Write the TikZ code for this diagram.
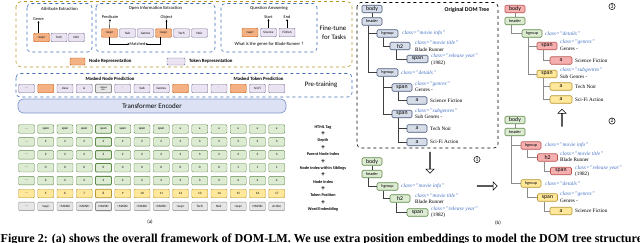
\documentclass[tikz,border=0pt]{standalone}
\usepackage{fontspec}
\setmainfont{Liberation Serif}
\setsansfont{Carlito}
\usepackage{tikz}
\usetikzlibrary{arrows.meta,shapes.arrows}

\definecolor{nodefill}{HTML}{F4B183}
\definecolor{nodeline}{HTML}{C55A11}
\definecolor{tokfill}{HTML}{EAE4F2}
\definecolor{tokline}{HTML}{7A6E96}
\definecolor{grnfill}{HTML}{DCEBD2}
\definecolor{grnline}{HTML}{5E8A4A}
\definecolor{ylwfill}{HTML}{FFE89C}
\definecolor{ylwline}{HTML}{B8962E}
\definecolor{gryfill}{HTML}{E6E6E6}
\definecolor{gryline}{HTML}{8A8A8A}
\definecolor{redfill}{HTML}{F6AFAF}
\definecolor{redline}{HTML}{B85450}
\definecolor{blufill}{HTML}{D6DCE8}
\definecolor{bluline}{HTML}{4A5A7A}
\definecolor{clsblue}{HTML}{4472C4}
\definecolor{taskline}{HTML}{3D6DB5}
\definecolor{goldline}{HTML}{B8961E}
\definecolor{encfill}{HTML}{DCE2F4}
\definecolor{encline}{HTML}{8096C8}
\newcommand{\fsz}[1]{\fontsize{#1}{#1}\selectfont}

\begin{document}
\begin{tikzpicture}[
    x=1pt,y=-1pt,
    tokbox/.style={rectangle,rounded corners=1pt,draw,line width=0.4pt,minimum width=16pt,minimum height=8.5pt,inner sep=0pt,font=\sffamily\fsz{3.3}},
    noderep/.style={tokbox,fill=nodefill,draw=nodeline},
    tokrep/.style={tokbox,fill=tokfill,draw=tokline},
    grnbox/.style={tokbox,fill=grnfill,draw=grnline},
    ylwbox/.style={tokbox,fill=ylwfill,draw=ylwline},
    grybox/.style={tokbox,fill=gryfill,draw=gryline},
    taskbox/.style={draw=taskline,dashed,line width=0.6pt,rounded corners=4pt},
    tasktitle/.style={font=\sffamily\fsz{4.6},inner sep=0pt},
    lbl/.style={font=\sffamily\fsz{4.3},inner sep=0pt},
    bigtext/.style={font=\sffamily\fsz{6.8},inner sep=0pt},
    legtext/.style={font=\sffamily\bfseries\fsz{4.8},anchor=west,inner sep=0pt},
    embtext/.style={font=\sffamily\bfseries\fsz{4.2},inner sep=0pt},
    plus/.style={font=\sffamily\bfseries\fsz{7},inner sep=0pt},
    treenode/.style={rectangle,rounded corners=1.2pt,draw,line width=0.6pt,minimum width=20pt,minimum height=7.5pt,inner sep=0.5pt,font=\sffamily\fsz{5.8}},
    smalltag/.style={font=\sffamily\fsz{4.2}},
    blunode/.style={treenode,fill=blufill,draw=bluline},
    grnnode/.style={treenode,fill=grnfill,draw=grnline},
    rednode/.style={treenode,fill=redfill,draw=redline},
    ylwnode/.style={treenode,fill=ylwfill,draw=ylwline},
    clstext/.style={font=\itshape\fsz{5.4},text=clsblue,anchor=west,inner sep=0pt},
    valtext/.style={font=\fsz{5.2},anchor=west,inner sep=0pt},
    branch/.style={draw=black!75,line width=0.5pt},
    lbranch/.style={draw=black!45,line width=0.5pt},
    hollow/.style={single arrow,draw,fill=white,line width=0.5pt,minimum width=8pt,single arrow head extend=2pt,inner sep=0pt},
    stepnum/.style={circle,draw,line width=0.5pt,inner sep=0.6pt,font=\sffamily\fsz{5.5}},
    pointer/.style={-{Stealth[length=2pt,width=2pt]},line width=0.4pt}
]
    \useasboundingbox (0,0) rectangle (640,242);
    \clip (0,0) rectangle (640,242);

    % fine-tune tasks
    \draw[draw=goldline,dashed,line width=0.6pt,rounded corners=5pt] (16,1.5) rectangle (352,67);
    \draw[taskbox] (27,3.5) rectangle (92,52);
    \draw[taskbox] (96,3.5) rectangle (215,52);
    \draw[taskbox] (221,3.5) rectangle (317,52);
    \node[tasktitle] (ttl1) at (59.5,8.5) {Attribute Extraction};
    \node[tasktitle] (ttl2) at (155.5,8.5) {Open Information Extraction};
    \node[tasktitle] (ttl3) at (269,8.5) {Question Answering};

    \node[noderep] (sa) at (41.5,37.5) {<sep>};
    \node[tokrep] (sa1) at (59,37.5) {Tech};
    \node[tokrep] (sa2) at (76.5,37.5) {Noir};
    \node[lbl] (genre) at (38.5,19.5) {Genre};
    \draw[pointer] ([xshift=-3pt]sa.north) -- (genre.south);

    \node[noderep] (sb) at (109.5,33) {<sep>};
    \node[tokrep] (sb1) at (127.5,33) {Sub};
    \node[tokrep] (sb2) at (145.5,33) {Genres};
    \node[noderep] (sc) at (163.5,33) {<sep>};
    \node[tokrep] (sc1) at (181.5,33) {Tech};
    \node[tokrep] (sc2) at (199.5,33) {Noir};
    \node[lbl] (pred) at (110,17.5) {Predicate};
    \node[lbl] (obj) at (166.5,17.5) {Object};
    \node[lbl] (match) at (137.5,44) {Matched};
    \draw[pointer] (sb.north) -- (pred.south);
    \draw[pointer] ([xshift=3pt]sc.north) -- (obj.south);
    \draw[pointer] (sb.south) |- (match.west);
    \draw[pointer] ([xshift=-3pt]sc.south) |- (match.east);

    \node[noderep] (sd) at (250,32.5) {<sep>};
    \node[tokrep] (sd1) at (268.5,32.5) {Science};
    \node[tokrep] (sd2) at (287,32.5) {Fiction};
    \node[lbl] (start) at (268.5,17.5) {Start};
    \node[lbl] (end) at (287,17.5) {End};
    \draw[pointer] (sd1.north) -- (start.south);
    \draw[pointer] (sd2.north) -- (end.south);
    \node[tasktitle] (quest) at (269,44.5) {What is the genre for Blade Runner ?};

    \node[bigtext] (ft1) at (333,28) {Fine-tune};
    \node[bigtext] (ft2) at (334,37) {for Tasks};

    % legend
    \node[noderep,minimum width=15pt,minimum height=7pt] (legn) at (77.5,61.5) {};
    \node[legtext] (legnt) at (89,61.5) {Node Representation};
    \node[tokrep,minimum width=18pt,minimum height=7pt] (legt) at (176,61.5) {};
    \node[legtext] (legtt) at (189,61.5) {Token Representation};

    % pre-training
    \draw[taskbox] (16,73.5) rectangle (352,97);
    \node[legtext,anchor=center] (mnp) at (110,79) {Masked Node Prediction};
    \node[legtext,anchor=center] (mtp) at (258.5,78.5) {Masked Token Prediction};
    \node[bigtext] (pt) at (321,85) {Pre-training};
    \node[tokrep] (p0) at (26.5,88.5) {\dots};
    \node[noderep] (p1) at (45.75,88.5) {};
    \node[tokrep] (p2) at (65,88.5) {class};
    \node[tokrep] (p3) at (84.25,88.5) {is};
    \node[grybox,line width=0.9pt,align=center,font=\sffamily\fsz{2.6}] (p4) at (103.5,88.5) {<object\\ex.>};
    \node[tokrep] (p5) at (122.75,88.5) {.};
    \node[tokrep] (p6) at (142,88.5) {Sub};
    \node[tokrep] (p7) at (161.25,88.5) {Genres};
    \node[noderep] (p8) at (180.5,88.5) {};
    \node[tokrep] (p9) at (199.75,88.5) {};
    \node[tokrep] (p10) at (219,88.5) {.};
    \node[noderep] (p11) at (238.25,88.5) {};
    \node[tokrep] (p12) at (257.5,88.5) {Sci-Fi};
    \node[tokrep] (p13) at (276.75,88.5) {};

    % encoder
    \node[draw=encline,fill=encfill,line width=0.7pt,rounded corners=5pt,minimum width=268pt,minimum height=14pt,font=\sffamily\fsz{7}] (enc) at (152,106) {Transformer Encoder};

    % embedding rows
    \foreach \t [count=\i from 0] in {\dots,span,span,span,span,span,span,span,a,a,a,a,a,a}
        {\ifnum\i=4 \def\lw{0.9pt}\else\def\lw{0.4pt}\fi
         \node[grnbox,line width=\lw] (tag-\i) at ({26.5+19.25*\i},129) {\t};}
    \foreach \t [count=\i from 0] in {\dots,2,2,2,2,2,2,2,3,3,3,3,3,3}
        {\ifnum\i=4 \def\lw{0.9pt}\else\def\lw{0.4pt}\fi
         \node[grnbox,line width=\lw] (dep-\i) at ({26.5+19.25*\i},141.9) {\t};}
    \foreach \t [count=\i from 0] in {\dots,2,2,2,2,2,2,2,3,3,3,3,3,3}
        {\ifnum\i=4 \def\lw{0.9pt}\else\def\lw{0.4pt}\fi
         \node[grnbox,line width=\lw] (par-\i) at ({26.5+19.25*\i},154.8) {\t};}
    \foreach \t [count=\i from 0] in {\dots,0,0,0,0,0,0,0,0,0,0,1,1,1}
        {\ifnum\i=4 \def\lw{0.9pt}\else\def\lw{0.4pt}\fi
         \node[grnbox,line width=\lw] (sib-\i) at ({26.5+19.25*\i},167.7) {\t};}
    \foreach \t [count=\i from 0] in {\dots,2,2,2,2,2,2,2,3,3,3,4,4,4}
        {\ifnum\i=4 \def\lw{0.9pt}\else\def\lw{0.4pt}\fi
         \node[grnbox,line width=\lw] (nix-\i) at ({26.5+19.25*\i},180.6) {\t};}
    \foreach \t [count=\i from 0] in {\dots,5,6,7,8,9,10,11,12,13,14,15,16,17}
        {\ifnum\i=4 \def\lw{0.9pt}\else\def\lw{0.4pt}\fi
         \node[ylwbox,line width=\lw] (pos-\i) at ({26.5+19.25*\i},193.5) {\t};}
    \foreach \t [count=\i from 0] in {\dots,<sep>,<MASK>,<MASK>,<MASK>,<MASK>,<MASK>,<MASK>,<sep>,Tech,Noir,<sep>,<MASK>,Action}
        {\ifnum\i=4 \def\lw{0.9pt}\else\def\lw{0.4pt}\fi
         \node[grybox,line width=\lw] (wrd-\i) at ({26.5+19.25*\i},206.4) {\t};}
    \node[lbl,font=\sffamily\fsz{5}] (capa) at (150,222) {(a)};

    % embedding names
    \node[embtext] (e1) at (323,127) {HTML Tag};
    \node[plus] (pl1) at (323,133.9) {+};
    \node[embtext] (e2) at (323,140.7) {Depth};
    \node[plus] (pl2) at (323,147.6) {+};
    \node[embtext] (e3) at (323,154.4) {Parent Node Index};
    \node[plus] (pl3) at (323,161.3) {+};
    \node[embtext] (e4) at (323,168.1) {Node index within Siblings};
    \node[plus] (pl4) at (323,175) {+};
    \node[embtext] (e5) at (323,181.8) {Node Index};
    \node[plus] (pl5) at (323,188.7) {+};
    \node[embtext] (e6) at (323,195.5) {Token Position};
    \node[plus] (pl6) at (323,202.4) {+};
    \node[embtext] (e7) at (323,209.2) {Word Embedding};

    % original DOM tree
    \draw[dashed,line width=0.6pt,rounded corners=4pt] (357,2.5) rectangle (498,148);
    \node[font=\sffamily\bfseries\fsz{5.8},inner sep=0pt] (orig) at (467,9.5) {Original DOM Tree};
    \node[blunode] (ob) at (372,9) {body};
    \node[blunode,smalltag] (oh) at (372,21.5) {header};
    \node[blunode,smalltag,minimum width=21pt] (og1) at (387.5,33.5) {hgroup};
    \node[blunode] (oh2) at (400,46) {h2};
    \node[blunode,minimum width=21pt] (os1) at (417.5,59) {span};
    \node[blunode,smalltag,minimum width=21pt] (og2) at (387.5,72.5) {hgroup};
    \node[blunode] (os2) at (402,87.5) {span};
    \node[blunode] (oa1) at (417,100.5) {a};
    \node[blunode] (os3) at (402,114) {span};
    \node[blunode] (oa2) at (417,128.5) {a};
    \node[blunode] (oa3) at (417,142) {a};
    \draw[branch] (ob) -- (oh);
    \draw[branch] ([xshift=7pt]oh.south west) |- (og1.west);
    \draw[branch] ([xshift=7pt]oh.south west) |- (og2.west);
    \draw[branch] ([xshift=7pt]og1.south west) |- (oh2.west);
    \draw[branch] ([xshift=7pt]oh2.south west) |- (os1.west);
    \draw[branch] ([xshift=7pt]og2.south west) |- (os2.west);
    \draw[branch] ([xshift=7pt]og2.south west) |- (os3.west);
    \draw[branch] ([xshift=7pt]os2.south west) |- (oa1.west);
    \draw[branch] ([xshift=7pt]os3.south west) |- (oa2.west);
    \draw[branch] ([xshift=7pt]os3.south west) |- (oa3.west);
    \node[clstext] (oc1) at (402,33.5) {class="movie info"};
    \node[clstext] (oc2) at (415,43) {class="movie title"};
    \node[valtext] (ov2) at (415,49.5) {Blade Runner};
    \node[clstext] (oc3) at (431,56.5) {class="release year"};
    \node[valtext] (ov3) at (431,63) {(1982)};
    \node[clstext] (oc4) at (401,72.5) {class="details"};
    \node[clstext] (oc5) at (415,84) {class="genres"};
    \node[valtext] (ov5) at (415,90) {Genres -};
    \node[valtext] (ov6) at (430,100.5) {Science Fiction};
    \node[clstext] (oc7) at (415,111) {class="subgenres"};
    \node[valtext] (ov7) at (415,117) {Sub Genres -};
    \node[valtext] (ov8) at (430,128.5) {Tech Noir};
    \node[valtext] (ov9) at (430,142) {Sci-Fi Action};

    % tree 1
    \node[stepnum] (n1) at (477,159.5) {1};
    \node[hollow,minimum height=21pt,shape border rotate=270] (down) at (430,162.5) {};
    \node[grnnode] (gb) at (372,161.5) {body};
    \node[grnnode,smalltag] (gh) at (372,174) {header};
    \node[grnnode,smalltag,minimum width=21pt] (gg) at (387.5,186.5) {hgroup};
    \node[grnnode] (gh2) at (400,198.5) {h2};
    \node[grnnode,minimum width=21pt] (gs) at (417.5,212.5) {span};
    \draw[branch] (gb) -- (gh);
    \draw[branch] ([xshift=7pt]gh.south west) |- (gg.west);
    \draw[branch] ([xshift=7pt]gg.south west) |- (gh2.west);
    \draw[branch] ([xshift=7pt]gh2.south west) |- (gs.west);
    \node[clstext] (gc1) at (401,186.5) {class="movie info"};
    \node[clstext] (gc2) at (415,195.5) {class="movie title"};
    \node[valtext] (gv2) at (415,201.5) {Blade Runner};
    \node[clstext] (gc3) at (431,209.5) {class="release year"};
    \node[valtext] (gv3) at (431,215.5) {(1982)};
    \node[hollow,minimum height=20pt] (right) at (487,186) {};
    \node[lbl,font=\sffamily\fsz{5}] (capb) at (498,223) {(b)};

    % tree 2
    \node[stepnum] (n2) at (612,121) {2};
    \node[grnnode] (tb) at (515,120) {body};
    \node[grnnode,smalltag] (th) at (515,132) {header};
    \node[rednode,smalltag] (tg1) at (531,145.5) {hgroup};
    \node[rednode] (th2) at (547.5,157.5) {h2};
    \node[rednode,minimum width=21pt] (ts1) at (561,171) {span};
    \node[ylwnode,smalltag] (tg2) at (531,183.5) {hgroup};
    \node[ylwnode] (ts2) at (547.5,197.5) {span};
    \node[ylwnode,minimum width=22pt] (ta1) at (561,211) {a};
    \draw[lbranch] (tb) -- (th);
    \draw[lbranch] ([xshift=7pt]th.south west) |- (tg1.west);
    \draw[lbranch] ([xshift=7pt]th.south west) |- (tg2.west);
    \draw[lbranch] ([xshift=7pt]tg1.south west) |- (th2.west);
    \draw[lbranch] ([xshift=7pt]th2.south west) |- (ts1.west);
    \draw[lbranch] ([xshift=7pt]tg2.south west) |- (ts2.west);
    \draw[lbranch] ([xshift=7pt]ts2.south west) |- (ta1.west);
    \node[clstext] (tc1) at (545,145.5) {class="movie info"};
    \node[clstext] (tc2) at (560,154) {class="movie title"};
    \node[valtext] (tv2) at (560,160) {Blade Runner};
    \node[clstext] (tc3) at (575,168) {class="release year"};
    \node[valtext] (tv3) at (575,174) {(1982)};
    \node[clstext] (tc4) at (545,183.5) {class="details"};
    \node[clstext] (tc5) at (560,194.5) {class="genres"};
    \node[valtext] (tv5) at (560,200.5) {Genres -};
    \node[valtext] (tv6) at (575,211) {Science Fiction};
    \node[hollow,minimum height=17pt,shape border rotate=90] (up) at (562,118) {};

    % tree 3
    \node[stepnum] (n3) at (612,6.5) {3};
    \node[rednode] (rb) at (515,9) {body};
    \node[grnnode,smalltag] (rh) at (515,21) {header};
    \node[grnnode,smalltag] (rg) at (532,33.5) {hgroup};
    \node[rednode] (rs1) at (547,46) {span};
    \node[rednode,minimum width=22pt] (ra1) at (561,60.5) {a};
    \node[ylwnode] (rs2) at (547,74) {span};
    \node[ylwnode,minimum width=22pt] (ra2) at (561,86.5) {a};
    \node[ylwnode,minimum width=22pt] (ra3) at (561,99.5) {a};
    \draw[lbranch] (rb) -- (rh);
    \draw[lbranch] ([xshift=7pt]rh.south west) |- (rg.west);
    \draw[lbranch] ([xshift=7pt]rg.south west) |- (rs1.west);
    \draw[lbranch] ([xshift=7pt]rg.south west) |- (rs2.west);
    \draw[lbranch] ([xshift=7pt]rs1.south west) |- (ra1.west);
    \draw[lbranch] ([xshift=7pt]rs2.south west) |- (ra2.west);
    \draw[lbranch] ([xshift=7pt]rs2.south west) |- (ra3.west);
    \node[clstext] (rc1) at (545,33.5) {class="details"};
    \node[clstext] (rc2) at (560,42.5) {class="genres"};
    \node[valtext] (rv2) at (560,48.5) {Genres -};
    \node[valtext] (rv3) at (575,60.5) {Science Fiction};
    \node[clstext] (rc4) at (560,70) {class="subgenres"};
    \node[valtext] (rv4) at (560,76.5) {Sub Genres -};
    \node[valtext] (rv5) at (575,86.5) {Tech Noir};
    \node[valtext] (rv6) at (575,99.5) {Sci-Fi Action};

    % caption
    \node[font=\bfseries\fsz{12.1},anchor=base west,inner sep=0pt] (cap) at (0.5,242.5) {Figure 2: (a) shows the overall framework of DOM-LM. We use extra position embeddings to model the DOM tree structure};
\end{tikzpicture}
\end{document}
